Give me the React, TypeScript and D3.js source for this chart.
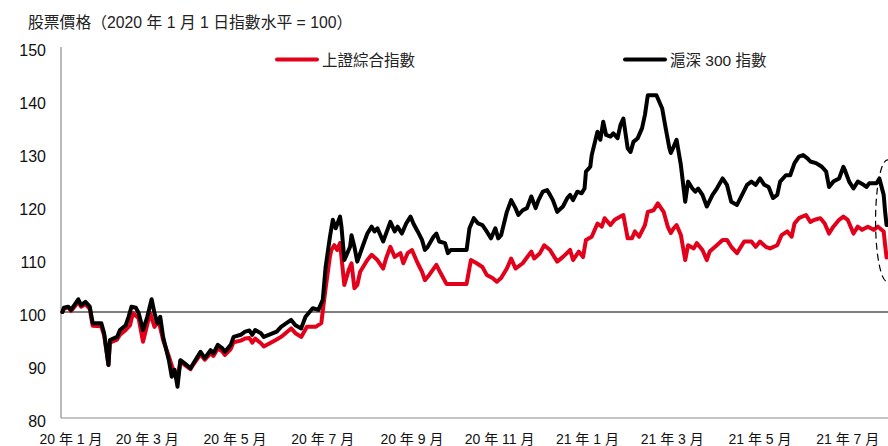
import React from "react";
import * as d3 from "d3";

const W = 888;
const H = 446;
const FONT = '"Liberation Sans", Arial, "Noto Sans CJK TC", sans-serif';

const title = "股票價格（2020 年 1 月 1 日指數水平 = 100）";
const seriesNames = ["上證綜合指數", "滬深 300 指數"];
const seriesColors = ["#e2001a", "#000000"];

const yTicks = [80, 90, 100, 110, 120, 130, 140, 150];
const xTickMonths = [
  "2020-01-01", "2020-03-01", "2020-05-01", "2020-07-01", "2020-09-01",
  "2020-11-01", "2021-01-01", "2021-03-01", "2021-05-01", "2021-07-01",
];

// 上證綜合指數
const sseDates = [
  "2020-01-02", "2020-01-03", "2020-01-06", "2020-01-08", "2020-01-13", "2020-01-15", "2020-01-18", "2020-01-21",
  "2020-01-23", "2020-01-29", "2020-01-31", "2020-02-03", "2020-02-04", "2020-02-09", "2020-02-11", "2020-02-15",
  "2020-02-18", "2020-02-20", "2020-02-24", "2020-02-27", "2020-03-03", "2020-03-06", "2020-03-09", "2020-03-12",
  "2020-03-16", "2020-03-19", "2020-03-22", "2020-03-24", "2020-03-27", "2020-03-31", "2020-04-02", "2020-04-07",
  "2020-04-10", "2020-04-14", "2020-04-16", "2020-04-19", "2020-04-22", "2020-04-24", "2020-04-28", "2020-04-30",
  "2020-05-05", "2020-05-08", "2020-05-11", "2020-05-13", "2020-05-15", "2020-05-19", "2020-05-21", "2020-05-30",
  "2020-06-02", "2020-06-09", "2020-06-12", "2020-06-16", "2020-06-20", "2020-06-26", "2020-06-30", "2020-07-01",
  "2020-07-03", "2020-07-06", "2020-07-07", "2020-07-09", "2020-07-11", "2020-07-13", "2020-07-16", "2020-07-19",
  "2020-07-21", "2020-07-23", "2020-07-25", "2020-07-27", "2020-08-01", "2020-08-04", "2020-08-08", "2020-08-12",
  "2020-08-14", "2020-08-17", "2020-08-20", "2020-08-24", "2020-08-26", "2020-08-29", "2020-09-01", "2020-09-05",
  "2020-09-08", "2020-09-10", "2020-09-13", "2020-09-18", "2020-09-21", "2020-09-25", "2020-10-09", "2020-10-12",
  "2020-10-16", "2020-10-20", "2020-10-23", "2020-10-27", "2020-10-30", "2020-11-02", "2020-11-06", "2020-11-09",
  "2020-11-12", "2020-11-17", "2020-11-23", "2020-11-25", "2020-11-29", "2020-12-02", "2020-12-06", "2020-12-11",
  "2020-12-15", "2020-12-20", "2020-12-22", "2020-12-26", "2020-12-29", "2020-12-31", "2021-01-04", "2021-01-08",
  "2021-01-11", "2021-01-13", "2021-01-17", "2021-01-20", "2021-01-24", "2021-01-26", "2021-01-29", "2021-02-01",
  "2021-02-03", "2021-02-06", "2021-02-10", "2021-02-12", "2021-02-16", "2021-02-19", "2021-02-23", "2021-02-26",
  "2021-02-28", "2021-03-02", "2021-03-04", "2021-03-07", "2021-03-10", "2021-03-12", "2021-03-16", "2021-03-18",
  "2021-03-22", "2021-03-25", "2021-03-27", "2021-04-01", "2021-04-05", "2021-04-08", "2021-04-11", "2021-04-15",
  "2021-04-20", "2021-04-25", "2021-04-28", "2021-05-01", "2021-05-05", "2021-05-08", "2021-05-13", "2021-05-16",
  "2021-05-20", "2021-05-23", "2021-05-25", "2021-05-28", "2021-06-02", "2021-06-05", "2021-06-08", "2021-06-12",
  "2021-06-15", "2021-06-18", "2021-06-21", "2021-06-25", "2021-06-28", "2021-07-01", "2021-07-05", "2021-07-08",
  "2021-07-11", "2021-07-15", "2021-07-19", "2021-07-22", "2021-07-26", "2021-07-27", "2021-07-28",
];
const sseValues = [
  100.0, 100.6, 100.9, 100.2, 101.9, 101.0, 101.5, 100.6,
  97.4, 97.3, 95.6, 90.0, 94.2, 94.8, 95.7, 96.6,
  97.5, 99.8, 98.8, 94.4, 99.8, 97.2, 98.2, 94.7,
  91.6, 89.1, 87.2, 90.7, 90.0, 89.2, 90.1, 92.0,
  91.0, 92.2, 91.7, 93.1, 92.6, 91.9, 93.0, 94.3,
  94.6, 95.0, 95.1, 94.2, 95.0, 94.1, 93.5, 94.8,
  95.3, 96.9, 96.0, 95.3, 97.2, 97.2, 97.9, 100.2,
  104.5, 110.5, 111.7, 112.6, 111.7, 113.0, 105.1, 107.9,
  109.2, 104.5, 105.1, 107.6, 109.8, 110.8, 109.8, 108.2,
  110.1, 112.3, 110.4, 111.1, 109.2, 111.1, 111.7, 109.2,
  107.6, 106.0, 107.0, 108.9, 107.3, 105.3, 105.3, 109.8,
  109.2, 108.5, 107.0, 106.4, 105.7, 106.4, 108.2, 110.1,
  108.2, 109.2, 111.4, 110.1, 111.1, 112.6, 111.7, 109.5,
  110.4, 111.7, 109.8, 111.4, 110.4, 113.6, 114.2, 116.7,
  116.1, 117.7, 116.4, 117.4, 118.0, 118.3, 113.9, 113.9,
  115.2, 114.2, 116.4, 118.9, 119.2, 120.5, 118.9, 116.0,
  114.9, 115.8, 116.4, 114.5, 109.8, 112.6, 112.0, 113.0,
  111.7, 109.8, 111.4, 112.6, 113.6, 113.6, 112.3, 111.1,
  113.3, 113.3, 112.3, 113.3, 112.3, 112.0, 112.6, 114.5,
  115.2, 114.2, 116.7, 117.7, 118.3, 117.0, 117.4, 117.7,
  116.7, 114.8, 116.1, 117.4, 118.0, 117.4, 114.8, 116.1,
  115.5, 116.1, 115.5, 116.1, 115.2, 112.6, 110.3,
];

// 滬深 300 指數
const csiDates = [
  "2020-01-02", "2020-01-03", "2020-01-06", "2020-01-08", "2020-01-13", "2020-01-15", "2020-01-18", "2020-01-21",
  "2020-01-23", "2020-01-29", "2020-01-31", "2020-02-03", "2020-02-04", "2020-02-09", "2020-02-11", "2020-02-15",
  "2020-02-17", "2020-02-19", "2020-02-22", "2020-02-24", "2020-02-27", "2020-03-01", "2020-03-04", "2020-03-06",
  "2020-03-08", "2020-03-10", "2020-03-12", "2020-03-16", "2020-03-18", "2020-03-20", "2020-03-22", "2020-03-24",
  "2020-03-27", "2020-03-31", "2020-04-02", "2020-04-07", "2020-04-10", "2020-04-14", "2020-04-16", "2020-04-19",
  "2020-04-22", "2020-04-24", "2020-04-28", "2020-04-30", "2020-05-05", "2020-05-08", "2020-05-11", "2020-05-13",
  "2020-05-15", "2020-05-19", "2020-05-21", "2020-05-30", "2020-06-02", "2020-06-09", "2020-06-12", "2020-06-16",
  "2020-06-19", "2020-06-24", "2020-06-28", "2020-07-01", "2020-07-03", "2020-07-06", "2020-07-08", "2020-07-10",
  "2020-07-13", "2020-07-14", "2020-07-16", "2020-07-20", "2020-07-21", "2020-07-23", "2020-07-25", "2020-07-29",
  "2020-08-01", "2020-08-04", "2020-08-06", "2020-08-08", "2020-08-12", "2020-08-14", "2020-08-17", "2020-08-20",
  "2020-08-22", "2020-08-25", "2020-08-28", "2020-08-31", "2020-09-02", "2020-09-05", "2020-09-08", "2020-09-10",
  "2020-09-12", "2020-09-16", "2020-09-18", "2020-09-20", "2020-09-24", "2020-09-26", "2020-09-28", "2020-10-09",
  "2020-10-11", "2020-10-14", "2020-10-17", "2020-10-20", "2020-10-23", "2020-10-26", "2020-10-29", "2020-10-31",
  "2020-11-02", "2020-11-06", "2020-11-09", "2020-11-12", "2020-11-14", "2020-11-17", "2020-11-20", "2020-11-23",
  "2020-11-26", "2020-11-28", "2020-12-01", "2020-12-04", "2020-12-06", "2020-12-08", "2020-12-11", "2020-12-15",
  "2020-12-18", "2020-12-20", "2020-12-22", "2020-12-25", "2020-12-28", "2020-12-30", "2020-12-31", "2021-01-03",
  "2021-01-04", "2021-01-08", "2021-01-10", "2021-01-12", "2021-01-14", "2021-01-17", "2021-01-19", "2021-01-22",
  "2021-01-24", "2021-01-26", "2021-01-29", "2021-01-31", "2021-02-02", "2021-02-05", "2021-02-08", "2021-02-10",
  "2021-02-12", "2021-02-18", "2021-02-22", "2021-02-24", "2021-02-27", "2021-02-28", "2021-03-02", "2021-03-04",
  "2021-03-07", "2021-03-10", "2021-03-12", "2021-03-15", "2021-03-17", "2021-03-19", "2021-03-22", "2021-03-25",
  "2021-03-29", "2021-04-01", "2021-04-05", "2021-04-08", "2021-04-11", "2021-04-15", "2021-04-18", "2021-04-22",
  "2021-04-25", "2021-04-28", "2021-05-01", "2021-05-04", "2021-05-07", "2021-05-10", "2021-05-13", "2021-05-15",
  "2021-05-19", "2021-05-22", "2021-05-25", "2021-05-28", "2021-05-31", "2021-06-03", "2021-06-05", "2021-06-09",
  "2021-06-13", "2021-06-16", "2021-06-18", "2021-06-21", "2021-06-25", "2021-06-28", "2021-06-29", "2021-07-02",
  "2021-07-05", "2021-07-08", "2021-07-12", "2021-07-14", "2021-07-16", "2021-07-21", "2021-07-23", "2021-07-26",
  "2021-07-27", "2021-07-28",
];
const csiValues = [
  100.0, 100.8, 101.0, 100.4, 102.4, 101.3, 101.9, 101.0,
  97.9, 97.9, 96.0, 90.0, 94.7, 95.3, 96.6, 97.5,
  99.1, 101.0, 100.8, 99.8, 96.6, 99.1, 102.4, 99.8,
  97.9, 99.1, 95.3, 90.9, 87.8, 89.1, 85.9, 90.9,
  90.3, 89.4, 90.3, 92.5, 91.3, 92.8, 92.2, 93.8,
  93.2, 92.5, 93.8, 95.3, 95.7, 96.3, 96.5, 95.7,
  96.6, 96.0, 95.3, 96.3, 97.2, 98.5, 97.5, 96.9,
  99.1, 100.7, 100.4, 102.3, 108.5, 114.2, 117.4, 115.8,
  118.0, 116.1, 109.8, 112.3, 114.5, 112.3, 109.5, 112.6,
  114.8, 116.1, 115.2, 115.8, 113.3, 114.8, 117.0, 115.2,
  116.1, 114.8, 116.7, 118.0, 116.7, 115.2, 113.6, 111.7,
  112.3, 114.2, 114.8, 113.3, 113.0, 111.1, 111.7, 111.7,
  115.8, 117.7, 116.7, 116.4, 115.2, 113.9, 115.8, 113.9,
  114.5, 118.9, 121.1, 119.6, 118.3, 119.2, 119.6, 121.8,
  119.6, 121.1, 122.7, 123.0, 122.1, 121.1, 118.9, 119.9,
  121.5, 122.1, 121.1, 122.7, 122.4, 123.3, 126.5, 127.4,
  129.6, 134.0, 132.5, 135.9, 133.4, 133.1, 133.7, 132.8,
  135.3, 136.5, 130.9, 130.2, 132.1, 132.8, 134.7, 137.2,
  140.9, 140.9, 138.4, 135.3, 130.9, 130.0, 131.2, 132.5,
  127.7, 120.8, 124.6, 123.3, 122.7, 123.3, 122.1, 119.9,
  122.1, 123.3, 125.2, 124.0, 120.8, 120.2, 121.8, 124.0,
  124.6, 124.0, 125.2, 124.0, 123.6, 121.5, 122.1, 124.6,
  125.8, 125.8, 128.1, 129.3, 129.6, 129.0, 128.4, 128.1,
  127.4, 126.5, 123.6, 124.6, 125.2, 127.4, 126.8, 124.6,
  123.3, 124.6, 124.0, 123.6, 124.3, 124.3, 125.2, 122.1,
  118.9, 116.4,
];

type Pt = { date: Date; value: number };

const parse = d3.timeParse("%Y-%m-%d");
const toPoints = (dates: string[], values: number[]): Pt[] =>
  dates.map((d, i) => ({ date: parse(d) as Date, value: values[i] }));

const series = [toPoints(sseDates, sseValues), toPoints(csiDates, csiValues)];

const plot = { left: 61, right: 888, top: 47, bottom: 418 };

const x = d3
  .scaleTime()
  .domain([parse("2020-01-01") as Date, parse("2021-07-29") as Date])
  .range([plot.left, plot.right]);

const y = d3.scaleLinear().domain([80, 150]).range([plot.bottom, plot.top]);

const line = d3
  .line<Pt>()
  .x(d => x(d.date))
  .y(d => y(d.value));

const monthLabel = (d: Date) => `${d3.timeFormat("%y")(d)} 年 ${d.getMonth() + 1} 月`;

const App = () => {
  const lastDate = series[1][series[1].length - 1].date;
  const lastRed = series[0][series[0].length - 1].value;
  // recent plateau of the black line before the drop
  const prevHigh = 125.2;
  const top = y(prevHigh);
  const bottom = y(lastRed);
  return (
    <svg
      width={W}
      height={H}
      style={{ position: "absolute", left: 0, top: 0, background: "#fff" }}
      fontFamily={FONT}
    >
      <text x={28} y={28} fontSize={15.8} fill="#222">
        {title}
      </text>

      {/* axes */}
      <line x1={plot.left} x2={plot.left} y1={y(150)} y2={plot.bottom} stroke="#8c8c8c" strokeWidth={1.2} />
      <line x1={plot.left} x2={plot.right} y1={plot.bottom} y2={plot.bottom} stroke="#8c8c8c" strokeWidth={1.2} />
      <line x1={plot.left} x2={plot.right} y1={y(100)} y2={y(100)} stroke="#000" strokeWidth={1} />

      {yTicks.map(t => (
        <text key={t} x={46} y={y(t) + 8.5} fontSize={16} textAnchor="end" fill="#111">
          {t}
        </text>
      ))}

      {xTickMonths.map(m => {
        const d = parse(m) as Date;
        return (
          <text key={m} x={Math.max(x(d), 71)} y={444} fontSize={14} textAnchor="middle" fill="#111">
            {monthLabel(d)}
          </text>
        );
      })}

      {/* series */}
      {series.map((s, i) => (
        <path
          key={i}
          d={line(s) || ""}
          fill="none"
          stroke={seriesColors[i]}
          strokeWidth={4}
          strokeLinejoin="round"
          strokeLinecap="round"
        />
      ))}

      {/* highlight of the latest drop */}
      <ellipse
        cx={x(lastDate) + 1}
        cy={(top + bottom) / 2 + 3}
        rx={12}
        ry={(bottom - top) / 2 + 21.5}
        fill="none"
        stroke="#000"
        strokeWidth={1.2}
        strokeDasharray="7 4"
      />

      {/* legend */}
      {seriesNames.map((n, i) => {
        const lx = i === 0 ? 277 : 625;
        return (
          <g key={n}>
            <line x1={lx} x2={lx + 40} y1={59.5} y2={59.5} stroke={seriesColors[i]} strokeWidth={4} strokeLinecap="round" />
            <text x={lx + 45} y={65.5} fontSize={15.5} fill="#222">
              {n}
            </text>
          </g>
        );
      })}
    </svg>
  );
};

export default App;
